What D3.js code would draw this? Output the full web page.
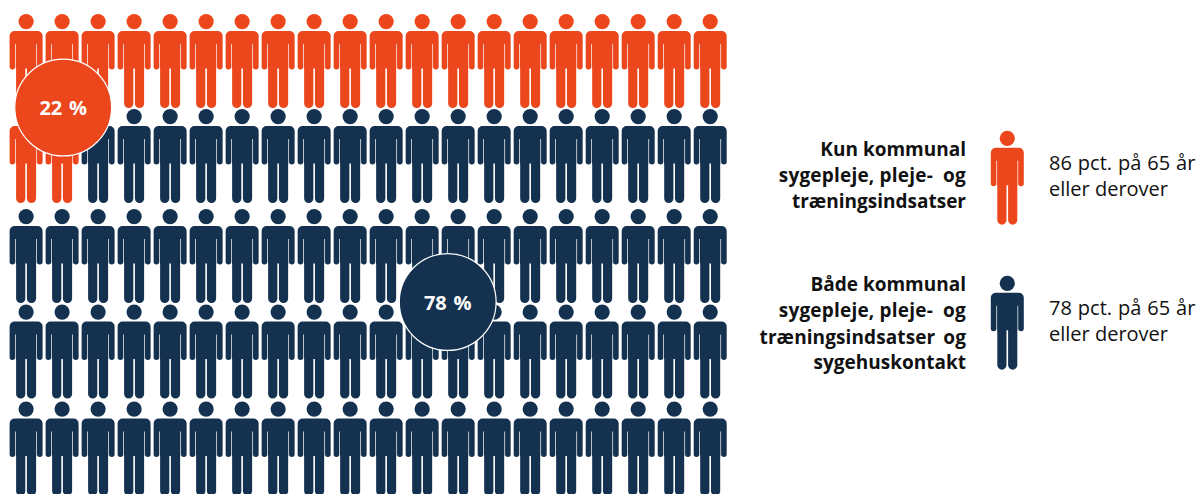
<!DOCTYPE html>
<html><head><meta charset="utf-8">
<script src="https://cdn.jsdelivr.net/npm/d3@7"></script>
<style>html,body{margin:0;padding:0;background:#fff}svg{display:block}text{font-family:"Open Sans",sans-serif}</style>
</head><body><svg id="c" width="1197" height="494"></svg>
<script>
const categories = ["Kun kommunal sygepleje, pleje- og træningsindsatser","Både kommunal sygepleje, pleje- og træningsindsatser og sygehuskontakt"];
const shares = [22, 78];
const shareLabels = ["22 %", "78 %"];
const categoryLines = [["Kun kommunal","sygepleje, pleje- og","træningsindsatser"],["Både kommunal","sygepleje, pleje- og","træningsindsatser og","sygehuskontakt"]];
const ageLines = [["86 pct. på 65 år","eller derover"],["78 pct. på 65 år","eller derover"]];
const colors = ["#EC471C","#14324F"];
const columns = d3.range(20), rows = d3.range(5);

const x = d3.scalePoint().domain(columns).range([26.1,710.2]);
const y = d3.scaleOrdinal().domain(rows).range([14,109,209,304.5,401.5]);
const svg = d3.select("#c");

function person(sel){
  sel.append("circle").attr("cy",7.6).attr("r",7.6);
  sel.append("path").attr("d",
    "M-11.5,17H11.5A5,5 0 0 1 16.5,22V52.7A2.8,2.8 0 0 1 10.9,52.7V30H10.2V54.5H10V89.4A4.6,4.6 0 0 1 0.8,89.4V54.5H-0.8V89.4A4.6,4.6 0 0 1 -10,89.4V54.5H-10.2V30H-10.9V52.7A2.8,2.8 0 0 1 -16.5,52.7V22A5,5 0 0 1 -11.5,17Z");
}
const people = d3.range(100).map(i=>({i,col:i%20,row:Math.floor(i/20),cat:i<shares[0]?0:1}));
svg.append("g").selectAll("g").data(people).join("g")
  .attr("transform",d=>`translate(${x(d.col)},${y(d.row)})`)
  .attr("fill",d=>colors[d.cat]).each(function(){person(d3.select(this));});

const bubbleAt = [[63.2,107.5],[447.7,302]];
const b = svg.append("g").selectAll("g").data(shares).join("g")
  .attr("transform",(d,i)=>`translate(${bubbleAt[i]})`);
b.append("circle").attr("r",48.4).attr("fill",(d,i)=>colors[i]).attr("stroke","#fff").attr("stroke-width",1.2);
b.append("text").attr("text-anchor","middle").attr("y",7.5).attr("fill","#fff").attr("font-size",20).attr("font-weight",700).attr("word-spacing",1.5).text((d,i)=>shareLabels[i]);

const legY=[130.7,275.7];
const leg = svg.append("g").selectAll("g").data(categories).join("g");
leg.append("g").attr("transform",(d,i)=>`translate(1007.3,${legY[i]})`).attr("fill",(d,i)=>colors[i]).each(function(){person(d3.select(this));});
const labY=[[155.5,182,208],[291,317,343.5,369]];
const lastWordGap=[[0,5,0],[0,5,3,0]];
const lineSpacing=[[0,0.2,0],[0,0.2,0.1,0]];
leg.each(function(d,i){
  const g=d3.select(this);
  g.selectAll("text.c").data(categoryLines[i]).join("text").attr("class","c").attr("x",966).attr("y",(t,j)=>labY[i][j]).attr("text-anchor","end").attr("font-size",19).attr("font-weight",700).attr("fill","#111").attr("letter-spacing",(t,j)=>lineSpacing[i][j])
    .each(function(t,j){
      const el=d3.select(this), gap=lastWordGap[i][j];
      if(!gap){el.text(t);return;}
      const k=t.lastIndexOf(" ");
      el.append("tspan").text(t.slice(0,k+1));
      el.append("tspan").attr("dx",gap).text(t.slice(k+1));
    });
  const ay=[[170,196],[314.5,341]][i];
  g.selectAll("text.a").data(ageLines[i]).join("text").attr("class","a").attr("x",1049).attr("y",(t,j)=>ay[j]).attr("font-size",20).attr("word-spacing",(t,j)=>j?0:0.75).attr("fill","#111").text(t=>t);
});
</script></body></html>
